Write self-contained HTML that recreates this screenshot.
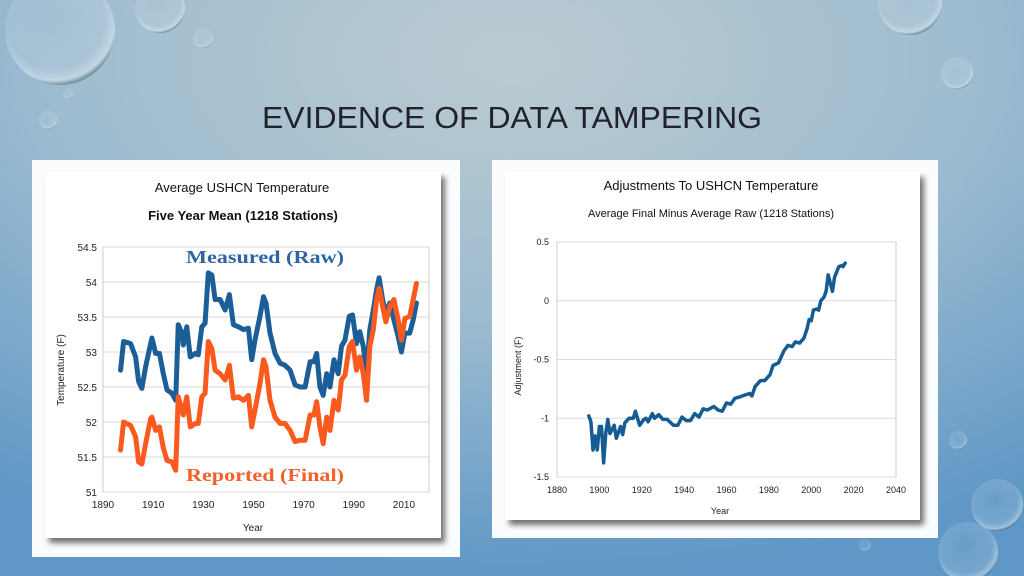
<!DOCTYPE html>
<html><head><meta charset="utf-8"><style>
html,body{margin:0;padding:0;width:1024px;height:576px;overflow:hidden;font-family:"Liberation Sans",sans-serif}
</style></head><body>
<svg id="s" width="1024" height="576" xmlns="http://www.w3.org/2000/svg">
<defs>
<radialGradient id="bg" cx="0.5" cy="0.1" r="0.9">
<stop offset="0" stop-color="#bccbd1"/><stop offset="0.5" stop-color="#9dbcd0"/><stop offset="1" stop-color="#5f97c6"/>
</radialGradient>
<radialGradient id="drop" cx="0.45" cy="0.4" r="0.6">
<stop offset="0" stop-color="#ffffff" stop-opacity="0.05"/><stop offset="0.75" stop-color="#dbe8f0" stop-opacity="0.18"/><stop offset="0.93" stop-color="#eef5fa" stop-opacity="0.45"/><stop offset="1" stop-color="#4a6272" stop-opacity="0.45"/>
</radialGradient>
<filter id="sh" x="-5%" y="-5%" width="115%" height="115%"><feDropShadow dx="4" dy="5" stdDeviation="3" flood-color="#000" flood-opacity="0.55"/></filter>
</defs>
<rect width="1024" height="576" fill="url(#bg)"/>
<g>
<circle cx="60" cy="30" r="55" fill="url(#drop)"/>
<circle cx="160" cy="8" r="25" fill="url(#drop)"/>
<circle cx="203" cy="38" r="10" fill="url(#drop)"/>
<circle cx="48" cy="120" r="9" fill="url(#drop)"/>
<circle cx="68" cy="93" r="5" fill="url(#drop)"/>
<circle cx="910" cy="3" r="32" fill="url(#drop)"/>
<circle cx="957" cy="73" r="16" fill="url(#drop)"/>
<circle cx="958" cy="440" r="9" fill="url(#drop)"/>
<circle cx="997" cy="505" r="26" fill="url(#drop)"/>
<circle cx="968" cy="552" r="30" fill="url(#drop)"/>
<circle cx="865" cy="545" r="6" fill="url(#drop)"/>
</g>
<text x="512" y="128" text-anchor="middle" font-size="31" fill="#22222e" textLength="500" lengthAdjust="spacingAndGlyphs">EVIDENCE OF DATA TAMPERING</text>

<g>
<rect x="32" y="160" width="428" height="397" fill="#fbfcfd"/>
<rect x="45" y="172" width="396" height="366" fill="#fff" filter="url(#sh)"/>
<text x="242" y="192" text-anchor="middle" font-size="13" fill="#111">Average USHCN Temperature</text>
<text x="243" y="220" text-anchor="middle" font-size="13" font-weight="bold" fill="#111">Five Year Mean (1218 Stations)</text>
<g id="lg"></g>
<text x="64" y="370" text-anchor="middle" font-size="10" fill="#222" transform="rotate(-90 64 370)">Temperature (F)</text>
<text x="253" y="531" text-anchor="middle" font-size="10" fill="#222">Year</text>
<text x="265" y="263" text-anchor="middle" font-size="18" font-weight="bold" font-family="Liberation Serif,serif" fill="#2f63a2" textLength="158" lengthAdjust="spacingAndGlyphs">Measured (Raw)</text>
<text x="265" y="481" text-anchor="middle" font-size="18" font-weight="bold" font-family="Liberation Serif,serif" fill="#f2602c" textLength="158" lengthAdjust="spacingAndGlyphs">Reported (Final)</text>
</g>

<g>
<rect x="492" y="160" width="446" height="378" fill="#fbfcfd"/>
<rect x="505" y="172" width="415" height="348" fill="#fff" filter="url(#sh)"/>
<text x="711" y="190" text-anchor="middle" font-size="13" fill="#111">Adjustments To USHCN Temperature</text>
<text x="711" y="217" text-anchor="middle" font-size="11" fill="#111">Average Final Minus Average Raw (1218 Stations)</text>
<g id="rg"></g>
<text x="521" y="366" text-anchor="middle" font-size="9" fill="#222" transform="rotate(-90 521 366)">Adjustment (F)</text>
<text x="720" y="514" text-anchor="middle" font-size="9" fill="#222">Year</text>
</g>
</svg>
<script>
const leftYears=[1897,1898.2,1901,1903,1904.2,1905.5,1907,1909,1909.5,1911,1912.5,1914,1915.5,1917.5,1919,1920,1921.5,1922,1923.4,1924.8,1926.8,1928,1929.4,1930.7,1932,1933.4,1934.7,1936.7,1938.7,1940.4,1942,1944,1946,1948,1949.3,1950.6,1952.6,1954,1955,1956.6,1958.6,1960.6,1962.6,1964.6,1966.6,1968.6,1970.6,1972.6,1974.1,1975.2,1976.5,1977.8,1979.2,1980.5,1982.1,1983.8,1985.1,1986.5,1988.2,1989.5,1991.1,1992.4,1993.8,1995.1,1996.4,1997.8,1999.1,2000.1,2001.5,2002.8,2004.4,2006,2007.7,2009,2010.4,2012.3,2013.7,2015];
const rawTemps=[52.74,53.15,53.12,52.93,52.58,52.48,52.79,53.12,53.2,52.98,52.98,52.7,52.46,52.41,52.31,53.39,53.27,53.1,53.36,52.93,52.98,52.96,53.36,53.41,54.13,54.1,53.75,53.75,53.6,53.82,53.39,53.36,53.32,53.34,52.89,53.17,53.51,53.79,53.7,53.27,52.98,52.84,52.81,52.74,52.53,52.5,52.5,52.86,52.86,52.98,52.5,52.38,52.69,52.5,52.89,52.69,53.08,53.17,53.51,53.53,53.12,53.29,53.08,52.69,53.32,53.6,53.89,54.06,53.75,53.55,53.7,53.46,53.22,53.0,53.27,53.27,53.46,53.7];
const finalTemps=[51.6,52.0,51.95,51.79,51.43,51.4,51.69,52.05,52.07,51.88,51.93,51.64,51.45,51.43,51.31,52.36,52.17,52.1,52.36,51.93,51.98,51.98,52.36,52.41,53.15,53.05,52.74,52.69,52.6,52.81,52.34,52.36,52.31,52.38,51.93,52.17,52.55,52.89,52.79,52.31,52.07,51.98,51.98,51.88,51.72,51.74,51.74,52.1,52.1,52.29,51.93,51.69,52.07,51.88,52.31,52.17,52.6,52.67,53.08,53.15,52.74,52.93,52.69,52.31,53.08,53.32,53.75,53.91,53.65,53.43,53.65,53.75,53.46,53.17,53.48,53.51,53.75,53.98];
const leftYTicks=["51","51.5","52","52.5","53","53.5","54","54.5"];
const leftXTicks=["1890","1910","1930","1950","1970","1990","2010"];
const adjYears=[1895,1896,1897,1898,1899,1900,1901,1902,1903,1904,1905,1907,1908,1910,1911,1912,1914,1916,1917,1919,1921,1922,1923,1925,1926,1928,1930,1932,1935,1937,1939,1941,1943,1945,1947,1949,1951,1954,1956,1958,1960,1962,1964,1966,1969,1971,1972,1973.5,1976,1978,1980.5,1982,1984.5,1987,1989,1991,1992.5,1994.5,1996.5,1998,1999,2000,2001,2002.5,2003.5,2004.5,2006,2007,2008,2009,2010,2011,2013,2014.5,2015,2016];
const adjValues=[-0.98,-1.03,-1.27,-1.15,-1.27,-1.07,-1.07,-1.38,-1.13,-1.01,-1.13,-1.06,-1.17,-1.07,-1.14,-1.04,-1.0,-1.0,-0.94,-1.06,-1.01,-1.0,-1.03,-0.96,-1.0,-0.97,-1.01,-1.01,-1.06,-1.06,-0.99,-1.02,-1.02,-0.96,-0.99,-0.92,-0.93,-0.9,-0.93,-0.94,-0.87,-0.88,-0.83,-0.82,-0.8,-0.79,-0.81,-0.73,-0.68,-0.68,-0.63,-0.55,-0.53,-0.43,-0.38,-0.39,-0.35,-0.36,-0.32,-0.24,-0.16,-0.17,-0.08,-0.07,-0.08,0.0,0.03,0.08,0.22,0.15,0.08,0.2,0.29,0.3,0.29,0.32];
const rightYTicks=["-1.5","-1","-0.5","0","0.5"];
const rightXTicks=["1880","1900","1920","1940","1960","1980","2000","2020","2040"];

const NS="http://www.w3.org/2000/svg";
function mk(p,t,a){const e=document.createElementNS(NS,t);for(const k in a)e.setAttribute(k,a[k]);p.appendChild(e);return e;}

const lg=document.getElementById('lg');
const lx=y=>103+(y-1890)*(429-103)/130;
const ly=v=>492-(v-51)*(492-247)/3.5;
mk(lg,'rect',{x:103,y:247,width:326,height:245,fill:'none',stroke:'#ccc'});
leftYTicks.forEach(t=>{
  const v=parseFloat(t);
  const g=mk(lg,'line',{x1:103,x2:429,y1:ly(v),y2:ly(v),stroke:'#d8d8d8'});
  
  
  const tx=mk(lg,'text',{x:97,y:ly(v)+4,'text-anchor':'end','font-size':10,fill:'#222'});
  tx.textContent=t;
  
  
});
leftXTicks.forEach(t=>{
  const tx=mk(lg,'text',{x:lx(+t),y:508,'text-anchor':'middle','font-size':10,fill:'#222'});
  tx.textContent=t;
  
  
});
const rawP=mk(lg,'polyline',{points:leftYears.map((y,i)=>lx(y)+','+ly(rawTemps[i])).join(' '),fill:'none',stroke:'#1c5f98','stroke-width':5,'stroke-linejoin':'round','stroke-linecap':'round'});


const finP=mk(lg,'polyline',{points:leftYears.map((y,i)=>lx(y)+','+ly(finalTemps[i])).join(' '),fill:'none',stroke:'#fb5a1f','stroke-width':5,'stroke-linejoin':'round','stroke-linecap':'round'});



const rg=document.getElementById('rg');
const rx=y=>557+(y-1880)*(896-557)/160;
const ry=v=>477-(v+1.5)*(477-242)/2;
mk(rg,'rect',{x:557,y:242,width:339,height:235,fill:'none',stroke:'#ccc'});
rightYTicks.forEach(t=>{
  const v=parseFloat(t);
  const g=mk(rg,'line',{x1:557,x2:896,y1:ry(v),y2:ry(v),stroke:'#dcdcdc'});
  
  
  const tx=mk(rg,'text',{x:549,y:ry(v)+3,'text-anchor':'end','font-size':9,fill:'#222'});
  tx.textContent=t;
  
  
});
rightXTicks.forEach(t=>{
  const tx=mk(rg,'text',{x:rx(+t),y:493,'text-anchor':'middle','font-size':9,fill:'#222'});
  tx.textContent=t;
  
  
});
const adjP=mk(rg,'polyline',{points:adjYears.map((y,i)=>rx(y)+','+ry(adjValues[i])).join(' '),fill:'none',stroke:'#155c93','stroke-width':3.5,'stroke-linejoin':'round','stroke-linecap':'round'});


</script>
</body></html>
